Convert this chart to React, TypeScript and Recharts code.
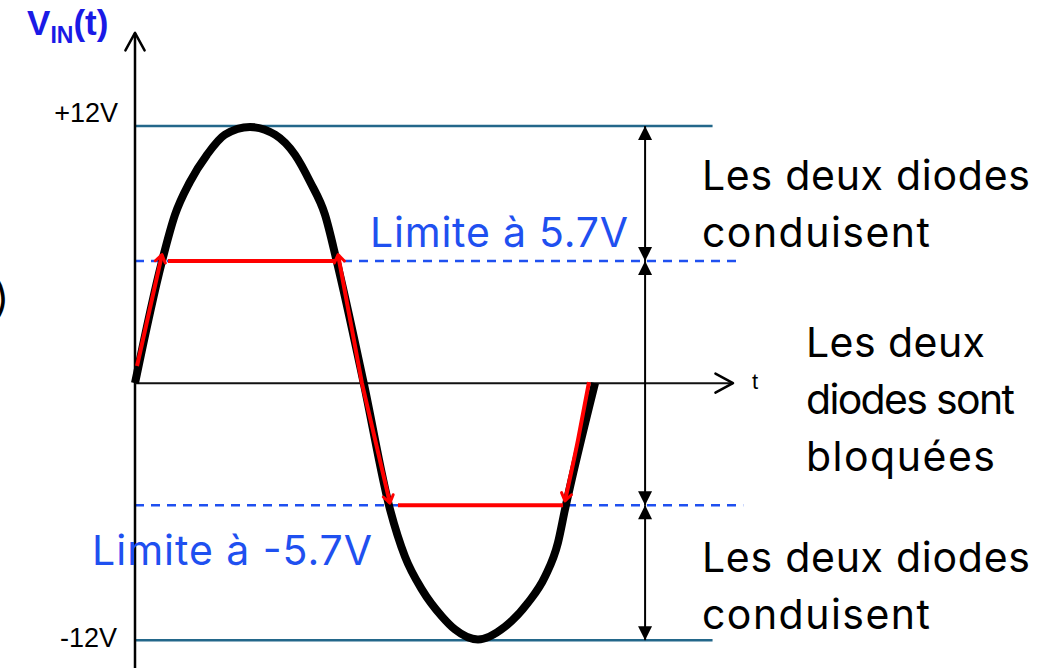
import { LineChart, Line, XAxis, YAxis, ReferenceDot } from "recharts";

type Pt = { t: number; v: number };

// t en degrés (une période = 360), v en volts
const inputWave: Pt[] = [
  { t: 0, v: 0 }, { t: 21, v: 5.66 }, { t: 31.3, v: 7.86 }, { t: 43, v: 9.4 },
  { t: 56.3, v: 10.66 }, { t: 70.4, v: 11.6 }, { t: 90, v: 11.96 }, { t: 109.6, v: 11.6 },
  { t: 125.2, v: 10.66 }, { t: 137, v: 9.4 }, { t: 148.7, v: 7.86 }, { t: 158, v: 5.66 },
  { t: 179, v: 0 }, { t: 199.6, v: -5.9 }, { t: 211.3, v: -8.1 }, { t: 224.6, v: -9.64 },
  { t: 240.3, v: -10.9 }, { t: 250.4, v: -11.5 }, { t: 268.4, v: -11.97 }, { t: 289.6, v: -11.37 },
  { t: 307.6, v: -10.25 }, { t: 320.9, v: -9.03 }, { t: 331, v: -7.45 }, { t: 336.5, v: -5.9 },
  { t: 360, v: 0 },
];

// signal écrêté (rouge), par morceaux
const clipRise: Pt[] = [{ t: 1.6, v: 0.8 }, { t: 21.1, v: 6.0 }];
const clipTop: Pt[] = [{ t: 25.8, v: 5.7 }, { t: 156.5, v: 5.7 }];
const clipFall: Pt[] = [{ t: 158.9, v: 6.0 }, { t: 177.6, v: 0 }, { t: 199.5, v: -5.6 }];
const clipBottom: Pt[] = [{ t: 205.8, v: -5.7 }, { t: 335, v: -5.7 }];
const clipRecover: Pt[] = [{ t: 336.5, v: -5.5 }, { t: 346.7, v: -2.65 }, { t: 355.3, v: 0.05 }];

const peakLevels = [12, -12];
const limitLevels = [5.7, -5.7];
const levelLabels = ["+12V", "-12V"];
const limitLabels = ["Limite à 5.7V", "Limite à -5.7V"];
const conductText = ["Les deux diodes", "conduisent"];
const blockedText = ["Les deux", "diodes sont", "bloquées"];

const spanT = 399.2;
const spans: Pt[][] = [
  [{ t: spanT, v: 12 }, { t: spanT, v: 5.7 }],
  [{ t: spanT, v: 5.7 }, { t: spanT, v: -5.7 }],
  [{ t: spanT, v: -5.7 }, { t: spanT, v: -12 }],
];

const yAxisLine: Pt[] = [{ t: 0, v: -13.3 }, { t: 0, v: 16.35 }];
const xAxisLine: Pt[] = [{ t: 0, v: 0 }, { t: 468, v: 0 }];

const W = 1063;
const H = 668;
const SX = 920 / 720;
const SY = 649 / 30.3;
const FONT = "Inter, 'Liberation Sans', Arial, sans-serif";
const ARIAL = "'Liberation Sans', Arial, sans-serif";
const BLUE = "#1f50f0";
const TEAL = "#23678a";

function tipAngle(pts: Pt[], i: number) {
  const n = pts[i === 0 ? 1 : i - 1];
  const p = pts[i];
  return Math.atan2(-(p.v - n.v) * SY, (p.t - n.t) * SX);
}

type Head = (cx: number, cy: number, a: number) => JSX.Element;

function ends(pts: Pt[], at: number[], draw: Head) {
  return (props: any) => {
    const { cx, cy, index } = props;
    if (!at.includes(index) || cx == null) return <g key={`e${index}`} />;
    return <g key={`e${index}`}>{draw(cx, cy, tipAngle(pts, index))}</g>;
  };
}

const openHead = (len: number, spread: number, color: string, w: number): Head => (cx, cy, a) => {
  const x1 = cx - len * Math.cos(a - spread);
  const y1 = cy - len * Math.sin(a - spread);
  const x2 = cx - len * Math.cos(a + spread);
  const y2 = cy - len * Math.sin(a + spread);
  return (
    <path
      d={`M${x1},${y1}L${cx},${cy}L${x2},${y2}`}
      fill="none"
      stroke={color}
      strokeWidth={w}
      strokeLinecap="round"
      strokeLinejoin="round"
    />
  );
};

const solidHead = (len: number, half: number): Head => (cx, cy, a) => {
  const bx = cx - len * Math.cos(a);
  const by = cy - len * Math.sin(a);
  const px = -Math.sin(a) * half;
  const py = Math.cos(a) * half;
  return <path d={`M${cx},${cy}L${bx + px},${by + py}L${bx - px},${by - py}Z`} fill="#000" />;
};

const flat = (level: number, to: number): Pt[] => [{ t: 0, v: level }, { t: to, v: level }];

function note(key: string, t: number, v: number, draw: (cx: number, cy: number) => JSX.Element) {
  return (
    <ReferenceDot
      key={key}
      x={t}
      y={v}
      r={0}
      ifOverflow="visible"
      shape={(p: any) => draw(p.cx, p.cy)}
    />
  );
}

function big(key: string, t: number, v: number, str: string, width: number, color = "#000") {
  return note(key, t, v, (cx, cy) => (
    <text x={cx} y={cy} fontFamily={FONT} fontSize={41} fill={color} textLength={width} lengthAdjust="spacing">
      {str}
    </text>
  ));
}

export default function App() {
  const redHead = openHead(9, 0.6, "#ff0000", 3);
  const axisHead = openHead(20, 0.5, "#000", 2.5);
  const tri = solidHead(14, 7);

  return (
    <div style={{ position: "absolute", left: 0, top: 0, width: W, height: H, background: "#fff" }}>
      <LineChart width={W} height={H} margin={{ top: 19, right: 8, bottom: 0, left: 135 }}>
        <XAxis dataKey="t" type="number" domain={[0, 720]} hide />
        <YAxis type="number" domain={[-13.3, 17]} hide />

        {/* niveaux ±12V */}
        {peakLevels.map((lv) => (
          <Line key={`pk${lv}`} data={flat(lv, 452)} dataKey="v" type="linear" stroke={TEAL}
            strokeWidth={2.5} dot={false} isAnimationActive={false} />
        ))}
        {/* limites ±5.7V */}
        {limitLevels.map((lv) => (
          <Line key={`lim${lv}`} data={flat(lv, lv > 0 ? 474 : 476)} dataKey="v" type="linear" stroke={BLUE}
            strokeWidth={2.5} strokeDasharray="9 7" dot={false} isAnimationActive={false} />
        ))}

        {/* axes */}
        <Line data={yAxisLine} dataKey="v" type="linear" stroke="#000" strokeWidth={2.5}
          dot={ends(yAxisLine, [1], axisHead)} isAnimationActive={false} />
        <Line data={xAxisLine} dataKey="v" type="linear" stroke="#111" strokeWidth={2}
          dot={ends(xAxisLine, [1], axisHead)} isAnimationActive={false} />

        {/* flèches de cotes */}
        {spans.map((s, i) => (
          <Line key={`sp${i}`} data={s} dataKey="v" type="linear" stroke="#000" strokeWidth={2}
            dot={ends(s, [0, 1], tri)} isAnimationActive={false} />
        ))}

        <Line data={inputWave} dataKey="v" type="monotone" stroke="#000" strokeWidth={8}
          strokeLinejoin="round" dot={false} isAnimationActive={false} />

        <Line data={clipRise} dataKey="v" type="linear" stroke="#ff0000" strokeWidth={4}
          dot={ends(clipRise, [1], redHead)} isAnimationActive={false} />
        <Line data={clipTop} dataKey="v" type="linear" stroke="#ff0000" strokeWidth={4}
          dot={false} isAnimationActive={false} />
        <Line data={clipFall} dataKey="v" type="linear" stroke="#ff0000" strokeWidth={4}
          dot={ends(clipFall, [0, 2], redHead)} isAnimationActive={false} />
        <Line data={clipBottom} dataKey="v" type="linear" stroke="#ff0000" strokeWidth={4}
          dot={false} isAnimationActive={false} />
        <Line data={clipRecover} dataKey="v" type="monotone" stroke="#ff0000" strokeWidth={4}
          dot={ends(clipRecover, [0], redHead)} isAnimationActive={false} />

        {note("vin", -84.5, 16.25, (cx, cy) => (
          <text x={cx} y={cy} fontFamily={ARIAL} fontWeight="bold" fill="#1a1ae6">
            <tspan fontSize={35}>V</tspan>
            <tspan fontSize={23} dy={8}>IN</tspan>
            <tspan fontSize={35} dy={-8}>(t)</tspan>
          </text>
        ))}
        {note("paren", -100.2, 3.32, (cx, cy) => (
          <text x={cx + 2} y={cy} fontFamily={FONT} fontSize={40} textAnchor="end" fill="#000">)</text>
        ))}
        {note("p12", -13.3, 12.19, (cx, cy) => (
          <text x={cx} y={cy} fontFamily={ARIAL} fontSize={27} textAnchor="end" fill="#000">
            {levelLabels[0]}
          </text>
        ))}
        {note("m12", -14.1, -12.32, (cx, cy) => (
          <text x={cx} y={cy} fontFamily={ARIAL} fontSize={27} textAnchor="end" fill="#000">
            {levelLabels[1]}
          </text>
        ))}
        {note("tlab", 482.9, -0.28, (cx, cy) => (
          <text x={cx} y={cy} fontFamily={ARIAL} fontSize={22} fill="#000">t</text>
        ))}

        {big("lim1", 183.9, 6.35, limitLabels[0], 258, BLUE)}
        {big("lim2", -33.6, -8.49, limitLabels[1], 280, BLUE)}

        {big("c1a", 443.7, 9.02, conductText[0], 328)}
        {big("c1b", 443.7, 6.35, conductText[1], 228)}
        {big("b1", 525.1, 1.22, blockedText[0], 179)}
        {big("b2", 525.1, -1.44, blockedText[1], 209)}
        {big("b3", 525.1, -4.1, blockedText[2], 189)}
        {big("c2a", 443.7, -8.82, conductText[0], 328)}
        {big("c2b", 443.7, -11.48, conductText[1], 228)}
      </LineChart>
    </div>
  );
}
